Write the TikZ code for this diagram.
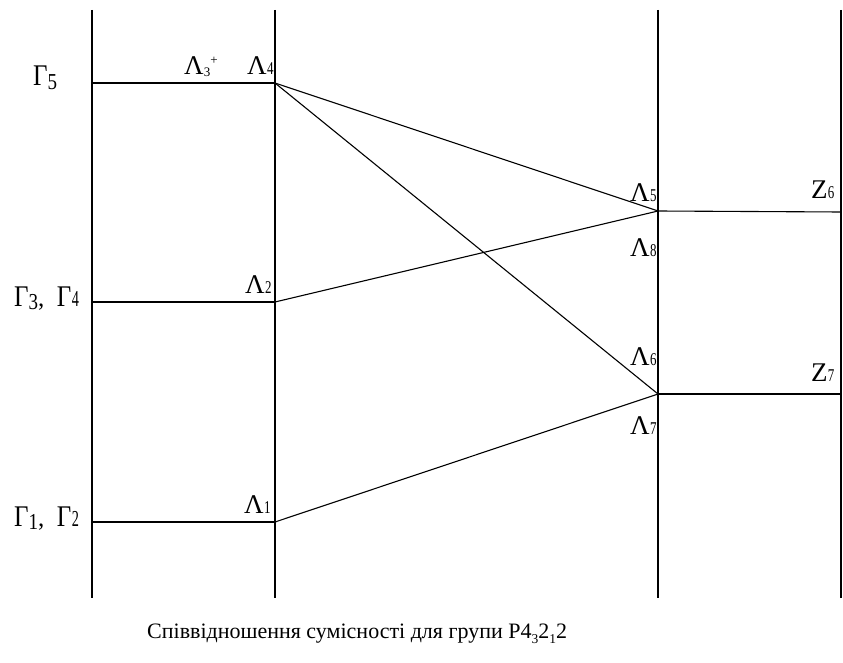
\documentclass[tikz,border=0pt]{standalone}
\usepackage{fontspec}
\setmainfont{Liberation Serif}
\newcommand{\lsub}[2]{#1\kern0.01em\raisebox{0em}{\scalebox{0.72}[1]{\fontsize{18}{18}\selectfont #2}}}
\newcommand{\gsub}[2]{\scalebox{1}[1.2]{#1\raisebox{-0.12em}{\fontsize{19}{19}\selectfont #2}}}
\newcommand{\gsubb}[2]{\scalebox{1}[1.2]{#1\kern0.02em\scalebox{0.75}[1]{\fontsize{19}{19}\selectfont #2}}}
\newcommand{\tsub}[1]{\raisebox{-0.25em}{\fontsize{13.5}{13.5}\selectfont #1}}
\begin{document}
\begin{tikzpicture}[x=1pt,y=-1pt,
  ln/.style={line width=1.1pt, black},
  glab/.style={font=\fontsize{25}{25}\selectfont, inner sep=0pt},
  llab/.style={font=\fontsize{27}{27}\selectfont, inner sep=0pt},
  captext/.style={font=\fontsize{22}{22}\selectfont, inner sep=0pt}]
\useasboundingbox (0,0) rectangle (843,663);
% vertical axes
\coordinate (v1t) at (92,10); \coordinate (v1b) at (92,598);
\coordinate (v2t) at (275,10); \coordinate (v2b) at (275,598);
\coordinate (v3t) at (658,10); \coordinate (v3b) at (658,598);
\coordinate (v4t) at (841,10); \coordinate (v4b) at (841,598);
\draw[ln] (v1t) -- (v1b);
\draw[ln] (v2t) -- (v2b);
\draw[ln] (v3t) -- (v3b);
\draw[ln] (v4t) -- (v4b);
% levels
\coordinate (g5a) at (92,83);  \coordinate (g5b) at (275,83);
\coordinate (g3a) at (92,302); \coordinate (g3b) at (275,302);
\coordinate (g1a) at (92,522); \coordinate (g1b) at (275,522);
\coordinate (z6a) at (658,211); \coordinate (z6b) at (841,212);
\coordinate (z7a) at (658,394); \coordinate (z7b) at (841,394);
\draw[ln] (g5a) -- (g5b);
\draw[ln] (g3a) -- (g3b);
\draw[ln] (g1a) -- (g1b);
\draw[ln] (z6a) -- (z6b);
\draw[ln] (z7a) -- (z7b);
% compatibility connectors
\draw[ln] (g5b) -- (z6a);
\draw[ln] (g5b) -- (z7a);
\draw[ln] (g3b) -- (z6a);
\draw[ln] (g1b) -- (z7a);
% labels
\node[glab, anchor=base west] (G5) at (33,86) {\gsub{Γ}{5}};
\node[glab, anchor=base west] (G34) at (14,306) {\gsub{Γ}{3},\ \ \gsubb{Γ}{4}};
\node[glab, anchor=base west] (G12) at (14,526) {\gsub{Γ}{1},\ \ \gsubb{Γ}{2}};
\node[llab, anchor=base west] (L3) at (184,75) {Λ\raisebox{-0.05em}{\fontsize{13}{13}\selectfont 3}\raisebox{0.4em}{\fontsize{13}{13}\selectfont +}};
\node[llab, anchor=base west] (L4) at (247,75) {\lsub{Λ}{4}};
\node[llab, anchor=base west] (L2) at (245,293) {\lsub{Λ}{2}};
\node[llab, anchor=base west] (L1) at (244,513) {\lsub{Λ}{1}};
\node[llab, anchor=base west] (L5) at (630,201) {\lsub{Λ}{5}};
\node[llab, anchor=base west] (L8) at (630,256) {\lsub{Λ}{8}};
\node[llab, anchor=base west] (L6) at (630,365) {\lsub{Λ}{6}};
\node[llab, anchor=base west] (L7) at (630,434) {\lsub{Λ}{7}};
\node[llab, anchor=base west] (Z6) at (811,199) {\lsub{Z}{6}};
\node[llab, anchor=base west] (Z7) at (811,381) {\lsub{Z}{7}};
\node[captext, anchor=base west] (C) at (147,638) {Співвідношення сумісності для групи P4\tsub{3}2\tsub{1}2};
\end{tikzpicture}
\end{document}
